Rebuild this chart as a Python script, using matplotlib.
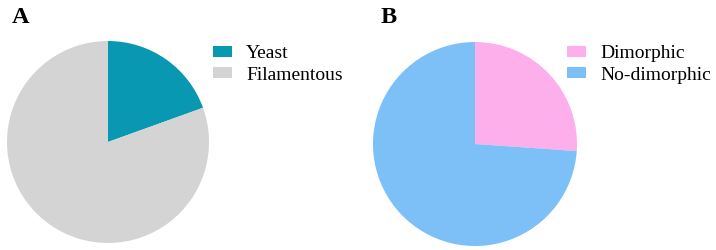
import matplotlib
matplotlib.use("Agg")
import matplotlib.pyplot as plt

labels_a = ["Yeast", "Filamentous"]
values_a = [19.5, 80.5]
colors_a = ["#0898B1", "#D4D4D4"]

labels_b = ["Dimorphic", "No-dimorphic"]
values_b = [26.1, 73.9]
colors_b = ["#FCAFEA", "#7DC0F8"]

plt.rcParams['font.family'] = ['Liberation Serif', 'DejaVu Serif']

W, H = 716, 250
fig = plt.figure(figsize=(W / 100, H / 100), dpi=100)

def add_pie(cx, cy, r, values, colors, labels, leg_x, leg_y, letter, lx, ly):
    ax = fig.add_axes([(cx - r) / W, (H - cy - r) / H, 2 * r / W, 2 * r / H])
    wedges, _ = ax.pie(values, colors=colors, startangle=90, counterclock=False,
                       wedgeprops=dict(linewidth=0))
    ax.set_xlim(-1, 1)
    ax.set_ylim(-1, 1)
    ax.set_aspect('auto')
    ax.axis('off')
    fig.legend(wedges, labels, loc='upper left',
               bbox_to_anchor=(leg_x / W, 1 - leg_y / H),
               frameon=False, fontsize=14, handlelength=1.0, handleheight=0.5,
               handletextpad=0.7, labelspacing=0.25, borderpad=0, borderaxespad=0)
    fig.text(lx / W, 1 - ly / H, letter, fontsize=17.5, fontweight='bold',
             ha='left', va='baseline')

add_pie(108, 142, 101, values_a, colors_a, labels_a, 213, 45, "A", 12, 23)
add_pie(475, 144, 102, values_b, colors_b, labels_b, 567, 45, "B", 381, 23)

fig.savefig("out.png", dpi=100)
